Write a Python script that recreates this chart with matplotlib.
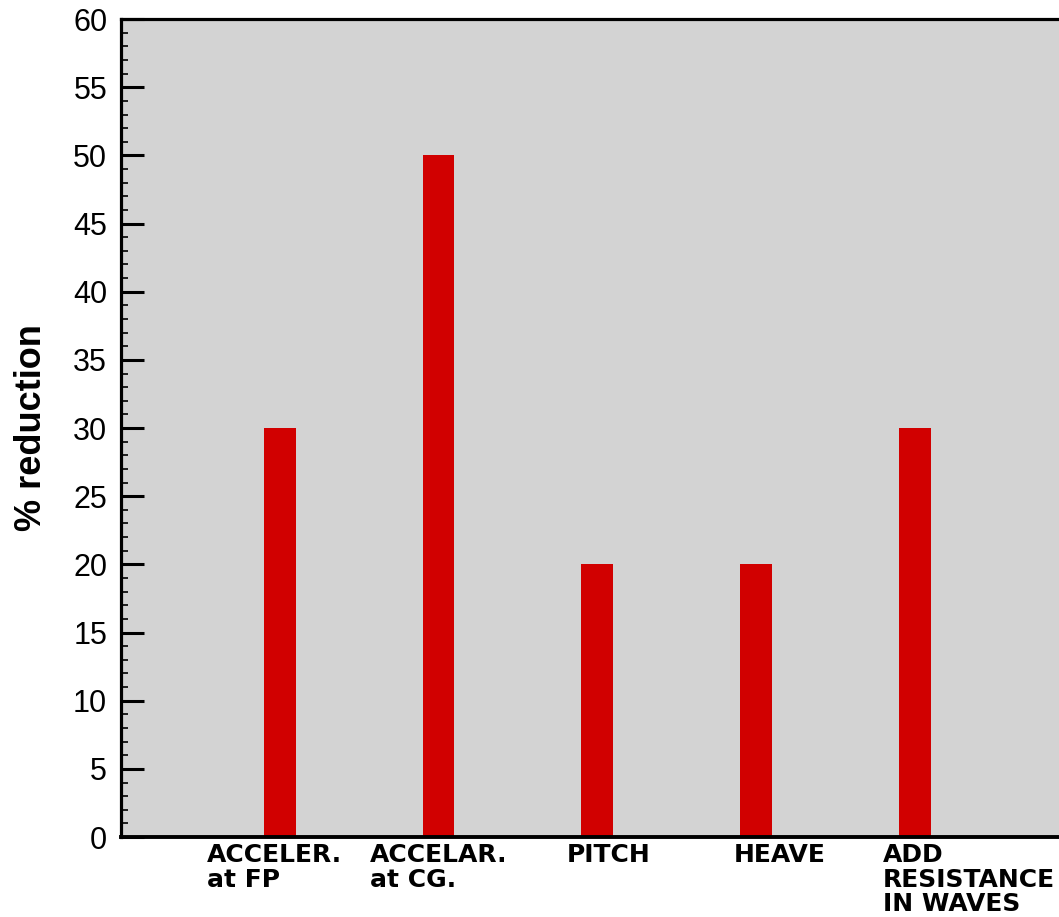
import matplotlib
matplotlib.use("Agg")
import matplotlib.pyplot as plt
from matplotlib.ticker import MultipleLocator

categories = ["ACCELER.\nat FP", "ACCELAR.\nat CG.", "PITCH", "HEAVE", "ADD\nRESISTANCE\nIN WAVES"]
values = [30, 50, 20, 20, 30]
yticks = list(range(0, 61, 5))

# label x offsets (data units) relative to bar position (layout only)
label_dx = [-0.46, -0.43, -0.19, -0.14, -0.20]

fig = plt.figure(figsize=(10.59, 9.17), dpi=100)
ax = fig.add_axes([0.1143, 0.0872, 0.8994, 0.892])
ax.set_facecolor("#d3d3d3")

xpos = list(range(1, len(values) + 1))
ax.bar(xpos, values, width=0.2, color="#d10000", edgecolor="none", zorder=2)

ax.set_xlim(0, 6)
ax.set_ylim(0, 60)
ax.set_xticks([])
ax.set_yticks(yticks)
ax.yaxis.set_minor_locator(MultipleLocator(1))
ax.tick_params(axis="y", which="major", direction="in", length=16.5, width=2.2,
               pad=10, labelsize=22, right=False)
ax.tick_params(axis="y", which="minor", direction="in", length=5, width=1.2, right=False)
for lab in ax.get_yticklabels():
    lab.set_fontfamily("Liberation Sans")

for s in ["left", "top", "right"]:
    ax.spines[s].set_linewidth(2.3)
ax.spines["bottom"].set_linewidth(2.8)

ax.set_ylabel("% reduction", fontsize=26, fontweight="bold", fontfamily="Liberation Sans")
ax.yaxis.set_label_coords(-0.0756, 0.5)

for x, lab, dx in zip(xpos, categories, label_dx):
    ax.annotate(lab, xy=(x + dx, 0), xycoords=("data", "axes fraction"),
                xytext=(0, -4), textcoords="offset points",
                ha="left", va="top", fontsize=18, fontweight="bold",
                fontfamily="DejaVu Sans", linespacing=1.05, annotation_clip=False)

fig.savefig("out.png", dpi=100)
